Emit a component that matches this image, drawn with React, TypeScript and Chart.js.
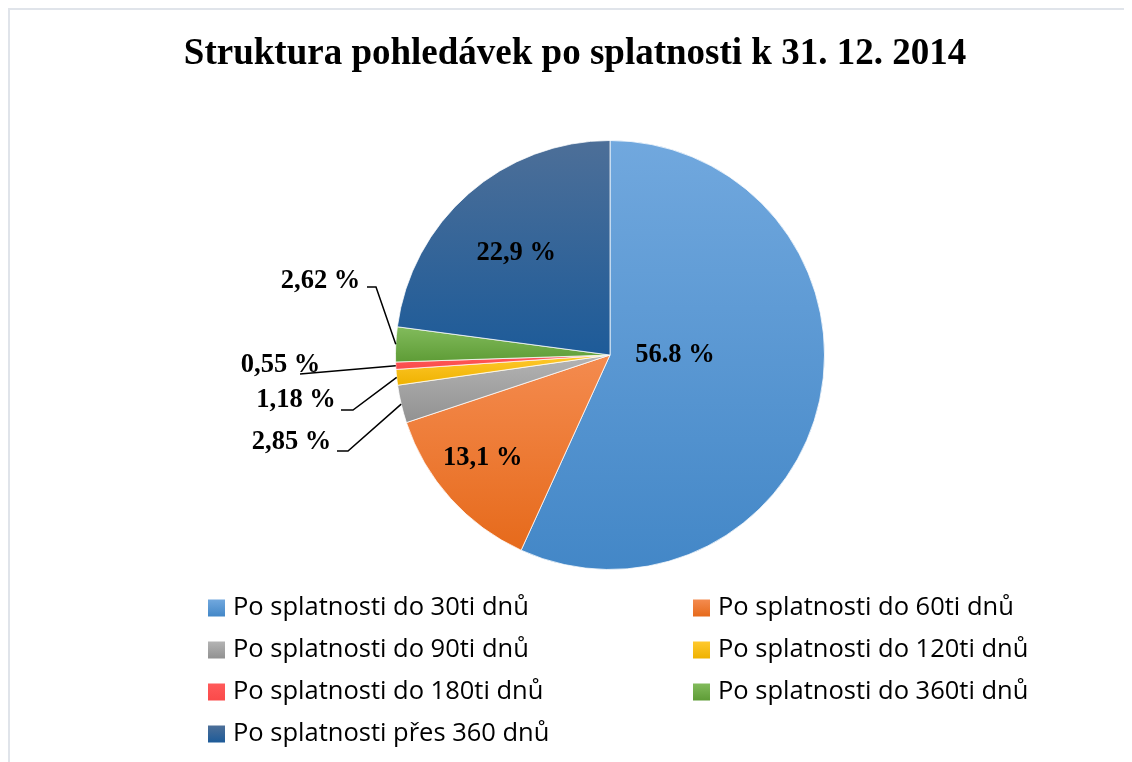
import React, { useEffect, useRef } from "react";
import { Chart, registerables } from "chart.js";

Chart.register(...registerables);

const TITLE = "Struktura pohledávek po splatnosti k 31. 12. 2014";

const categories = [
  "Po splatnosti do 30ti dnů",
  "Po splatnosti do 60ti dnů",
  "Po splatnosti do 90ti dnů",
  "Po splatnosti do 120ti dnů",
  "Po splatnosti do 180ti dnů",
  "Po splatnosti do 360ti dnů",
  "Po splatnosti přes 360 dnů",
];

const shares = [56.8, 13.1, 2.85, 1.18, 0.55, 2.62, 22.9];

const valueLabels = ["56.8 %", "13,1 %", "2,85 %", "1,18 %", "0,55 %", "2,62 %", "22,9 %"];

const topColors = ["#71a8de", "#f48b4f", "#b4b4b4", "#ffc92e", "#ff5a5a", "#82bb5c", "#4d6f98"];
const bottomColors = ["#4387c7", "#e66a1b", "#919191", "#efb200", "#fa4a4a", "#5e9c36", "#1d5b99"];

// label placement (style only): inside labels along slice mid-angle, outside with leader lines
const placement: any[] = [
  { inside: true, frac: 0.31, dx: 0, dy: -14 },
  { inside: true, frac: 0.76, dx: -6, dy: -6 },
  { inside: false, tx: -318.5, ty: 87, sx: -273, sy: 96, ex: -262, ey: 96 },
  { inside: false, tx: -314, ty: 45, sx: -269, sy: 55, ex: -257, ey: 55 },
  { inside: false, tx: -329.5, ty: 10, sx: -310, sy: 19, ex: -310, ey: 19 },
  { inside: false, tx: -289.5, ty: -74, sx: -243, sy: -68, ex: -234, ey: -68 },
  { inside: true, frac: 0.65, dx: -2, dy: 3 },
];

function gradientFor(c: any) {
  const chart = c.chart;
  const i = c.dataIndex ?? 0;
  const area = chart.chartArea;
  if (!area) return topColors[i];
  const cx = (area.left + area.right) / 2;
  const cy = (area.top + area.bottom) / 2;
  const r = Math.min(area.right - area.left, area.bottom - area.top) / 2;
  const total = shares.reduce((a, b) => a + b, 0);
  let cum = 0;
  for (let k = 0; k < i; k++) cum += shares[k];
  const a0 = -Math.PI / 2 + (2 * Math.PI * cum) / total;
  const a1 = a0 + (2 * Math.PI * shares[i]) / total;
  const ys = [cy, cy + r * Math.sin(a0), cy + r * Math.sin(a1)];
  const contains = (t: number) => {
    for (let k = -1; k <= 1; k++) {
      const tt = t + 2 * Math.PI * k;
      if (tt >= a0 && tt <= a1) return true;
    }
    return false;
  };
  if (contains(-Math.PI / 2)) ys.push(cy - r);
  if (contains(Math.PI / 2)) ys.push(cy + r);
  const y0 = Math.min(...ys);
  const y1 = Math.max(...ys);
  const g = chart.ctx.createLinearGradient(0, y0, 0, Math.max(y1, y0 + 1));
  g.addColorStop(0, topColors[i]);
  g.addColorStop(1, bottomColors[i]);
  return g;
}

const decorPlugin = {
  id: "decor",
  afterDraw(chart: any) {
    const ctx = chart.ctx as CanvasRenderingContext2D;
    ctx.save();
    // title
    ctx.fillStyle = "#000";
    ctx.font = "bold 37px 'Liberation Serif', 'Times New Roman', serif";
    ctx.textAlign = "center";
    ctx.textBaseline = "alphabetic";
    ctx.fillText(TITLE, 565, 54);

    // value labels
    const meta = chart.getDatasetMeta(0);
    ctx.font = "bold 26.5px 'Liberation Serif', 'Times New Roman', serif";
    ctx.textBaseline = "middle";
    ctx.textAlign = "center";
    meta.data.forEach((arc: any, i: number) => {
      const p = placement[i];
      const cx = arc.x;
      const cy = arc.y;
      const R = arc.outerRadius;
      const mid = (arc.startAngle + arc.endAngle) / 2;
      if (p.inside) {
        const x = cx + Math.cos(mid) * R * p.frac + p.dx;
        const y = cy + Math.sin(mid) * R * p.frac + p.dy;
        ctx.fillStyle = "#000";
        ctx.fillText(valueLabels[i], x, y);
      } else {
        ctx.strokeStyle = "#000";
        ctx.lineWidth = 1.5;
        ctx.beginPath();
        ctx.moveTo(cx + p.sx, cy + p.sy);
        ctx.lineTo(cx + p.ex, cy + p.ey);
        ctx.lineTo(cx + Math.cos(mid) * R, cy + Math.sin(mid) * R);
        ctx.stroke();
        ctx.fillStyle = "#000";
        ctx.fillText(valueLabels[i], cx + p.tx, cy + p.ty);
      }
    });

    // legend (two columns)
    ctx.font = "25.5px 'Open Sans', Lato, sans-serif";
    ctx.textAlign = "left";
    ctx.textBaseline = "middle";
    categories.forEach((name, i) => {
      const col = i % 2;
      const row = Math.floor(i / 2);
      const bx = col === 0 ? 198 : 683;
      const tx = col === 0 ? 223 : 708;
      const y = 598 + row * 42;
      const g = ctx.createLinearGradient(0, y - 8.5, 0, y + 8.5);
      g.addColorStop(0, topColors[i]);
      g.addColorStop(1, bottomColors[i]);
      ctx.fillStyle = g;
      ctx.fillRect(bx, y - 8.5, 17, 17);
      ctx.fillStyle = "#000";
      ctx.fillText(name, tx, y);
    });
    ctx.restore();
  },
};

export default function App() {
  const ref = useRef<HTMLCanvasElement | null>(null);
  useEffect(() => {
    if (!ref.current) return;
    const chart = new Chart(ref.current, {
      type: "pie",
      data: {
        labels: categories,
        datasets: [
          {
            data: shares,
            backgroundColor: (c: any) => gradientFor(c),
            borderColor: "rgba(255,255,255,0.75)",
            borderWidth: 1,
          },
        ],
      },
      options: {
        responsive: false,
        animation: false,
        layout: { padding: { left: 385, top: 130, right: 307, bottom: 192 } },
        plugins: {
          legend: { display: false },
          title: { display: false },
          tooltip: { enabled: false },
        },
      },
      plugins: [decorPlugin],
    });
    return () => chart.destroy();
  }, []);
  return (
    <div
      style={{
        width: 1122,
        height: 752,
        borderTop: "2px solid #e0e4ea",
        borderLeft: "2px solid #e0e4ea",
        background: "#fff",
      }}
    >
      <canvas ref={ref} width={1122} height={752} style={{ display: "block", width: 1122, height: 752 }} />
    </div>
  );
}
